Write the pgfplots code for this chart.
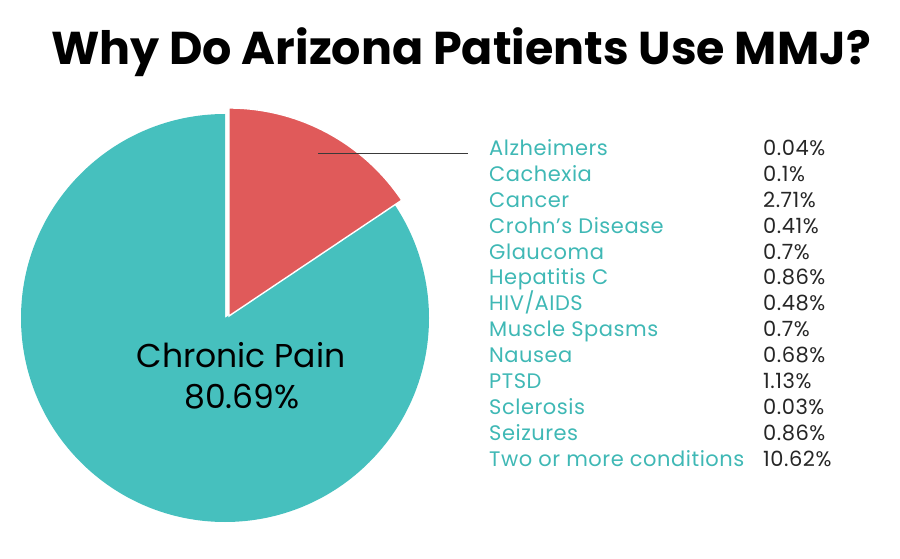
\documentclass[border=0pt]{standalone}
\usepackage{pgfplots}
\pgfplotsset{compat=1.18}
\usepackage{fontspec}
\setmainfont{Poppins}
\newfontfamily\listfont[LetterSpace=2.5]{Poppins}
\definecolor{pieteal}{HTML}{46C0BE}
\definecolor{piered}{HTML}{E05A5A}
\definecolor{legteal}{HTML}{3FB8B5}
\definecolor{leader}{HTML}{3A3A3A}
% pie shares (percent of the circle, as drawn in the reference)
\def\othershare{15.6}
\pgfmathsetmacro{\redstart}{90-3.6*\othershare}
\pgfmathsetmacro{\tealend}{360+\redstart}
\begin{document}
\begin{tikzpicture}
\begin{axis}[at={(0,0)}, anchor=south west, width=900pt, height=558pt,
  scale only axis, xmin=0, xmax=900, ymin=0, ymax=558, hide axis, clip=false]
% teal sector (Chronic Pain)
\fill[pieteal] (axis cs:225,240) -- ++(90:204pt) arc[start angle=90, end angle=\tealend, radius=204pt] -- cycle;
% red exploded sector (other conditions)
\filldraw[fill=piered, draw=white, line width=1.4pt] (axis cs:229,242) -- ++(\redstart:208pt) arc[start angle=\redstart, end angle=90, radius=208pt] -- cycle;
\draw[leader, line width=1pt] (axis cs:318,404) -- (axis cs:468,404);
\end{axis}
\path (0,0) rectangle (900pt,558pt);
% title
\node[anchor=base, font=\fontsize{46}{50}\selectfont\bfseries] at (461pt,493pt) {Why Do Arizona Patients Use MMJ?};
% center label
\node[anchor=base, font=\fontsize{33}{37}\selectfont] at (241pt,191pt) {Chronic Pain};
\node[anchor=base, font=\fontsize{33}{37}\selectfont] at (242pt,150pt) {80.69\%};
% list
\foreach \name/\val [count=\i from 0] in {Alzheimers/0.04\%, Cachexia/0.1\%, Cancer/2.71\%, Crohn’s Disease/0.41\%, Glaucoma/0.7\%, Hepatitis C/0.86\%, HIV\slash AIDS/0.48\%, Muscle Spasms/0.7\%, Nausea/0.68\%, PTSD/1.13\%, Sclerosis/0.03\%, Seizures/0.86\%, Two or more conditions/10.62\%}{
  \pgfmathsetmacro{\yy}{558-155.5-25.9*\i}
  \node[anchor=base west, inner sep=0pt, text=legteal, font=\listfont\fontsize{21}{24}\selectfont] at (489pt,\yy pt) {\name};
  \node[anchor=base west, inner sep=0pt, text=black!85, font=\listfont\fontsize{21}{24}\selectfont] at (763pt,\yy pt) {\val};
}
\end{tikzpicture}
\end{document}
